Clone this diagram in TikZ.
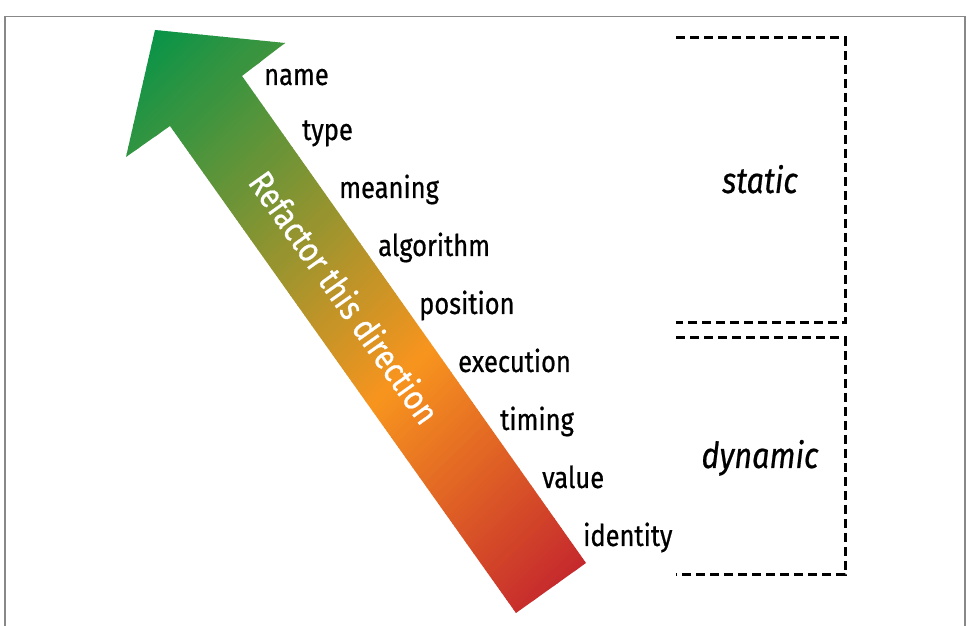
\documentclass[tikz,border=0pt]{standalone}
\usepackage{fontspec}
\setmainfont{Fira Sans}[FakeStretch=0.85, FakeBold=0.6]
\usepackage{xcolor}
\usepackage{tikz}

\definecolor{arrowgreen}{RGB}{8,148,72}
\definecolor{arroworange}{RGB}{247,148,30}
\definecolor{arrowred}{RGB}{196,38,45}
\definecolor{framegray}{RGB}{136,136,136}

\begin{document}
\begin{tikzpicture}[x=1pt, y=1pt,
		term/.style={anchor=base west, inner sep=0pt, font=\fontsize{30}{36}\selectfont},
		kind/.style={anchor=base, inner sep=0pt, font=\fontsize{36}{42}\selectfont\itshape},
		bracket/.style={line width=3pt, dash pattern=on 9pt off 5pt}]
	\useasboundingbox (0,0) rectangle (970,626);
	\draw[framegray, line width=1.8pt] (5,0) -- (5,609.5) -- (965,609.5) -- (965,0);

	% the arrow, green to orange to red
	\begin{scope}
		\clip (155,596) -- (285,583) -- (242,550) -- (586,63) -- (516,13) -- (170,500) -- (126,469) -- cycle;
		\begin{scope}[shift={(155,596)}, rotate=-45.4]
			\foreach \i in {0,...,104} {
				\pgfmathtruncatemacro\p{100-\i*100/105}
				\fill[arrowgreen!\p!arroworange] (\i*4,-400) rectangle ++(4.6,800);
			}
			\foreach \i in {0,...,67} {
				\pgfmathtruncatemacro\p{100-\i*100/67}
				\fill[arroworange!\p!arrowred] (420+\i*4,-400) rectangle ++(4.6,800);
			}
		\end{scope}
	\end{scope}
	\node[rotate=-54.6, text=white, inner sep=0pt, font=\fontsize{35}{40}\selectfont] (refactor) at (345,329) {Refactor this direction};

	% the terms
	\node[term] (name) at (264,541) {name};
	\node[term] (type) at (302,486) {type};
	\node[term] (meaning) at (339,428) {meaning};
	\node[term] (algorithm) at (378,370) {algorithm};
	\node[term] (position) at (419,312) {position};
	\node[term] (execution) at (458,254) {execution};
	\node[term] (timing) at (500,196) {timing};
	\node[term] (value) at (542,138) {value};
	\node[term] (identity) at (583,80) {identity};

	% static and dynamic
	\draw[bracket] (676,588) -- (845,588) -- (845,303) -- (676,303);
	\draw[bracket] (676,288) -- (845,288) -- (845,51) -- (676,51);
	\node[kind] (static) at (760,433) {static};
	\node[kind] (dynamic) at (760,158) {dynamic};
\end{tikzpicture}
\end{document}
